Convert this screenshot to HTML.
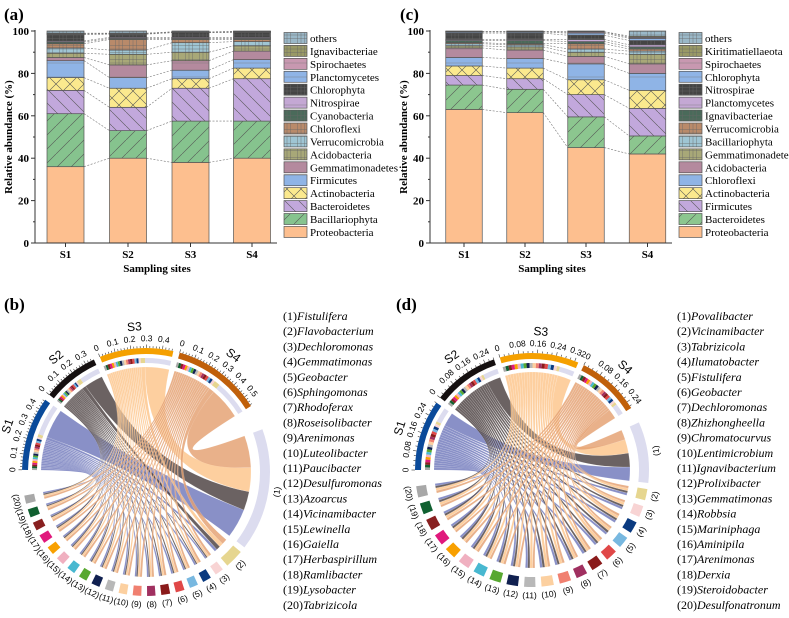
<!DOCTYPE html>
<html><head><meta charset="utf-8"><style>
html,body{margin:0;padding:0;background:#fff;}
svg{display:block;font-family:"Liberation Serif",serif;}
</style></head><body>
<svg id="fig" width="789" height="618" viewBox="0 0 789 618" xmlns="http://www.w3.org/2000/svg">
<defs id="defs"></defs>
<text x="4" y="20" font-size="17" font-weight="bold">(a)</text>
<text x="400" y="20" font-size="17" font-weight="bold">(c)</text>
<text x="4" y="310" font-size="17" font-weight="bold">(b)</text>
<text x="396" y="310" font-size="17" font-weight="bold">(d)</text>
</svg>
<script>
// ---------- Bar chart data ----------
const sites = ["S1","S2","S3","S4"];
const aNames = ["Proteobacteria","Bacillariophyta","Bacteroidetes","Actinobacteria","Firmicutes","Gemmatimonadetes","Acidobacteria","Verrucomicrobia","Chloroflexi","Cyanobacteria","Nitrospirae","Chlorophyta","Planctomycetes","Spirochaetes","Ignavibacteriae","others"];
const aS1 = [36,25,11,6,8,1.5,2,2.5,2,0.8,0.5,3,0.3,0.2,0.2,1];
const aS2 = [40,13,11,9,5,6,5,2,5,0.5,0.5,1.5,0.2,0.2,0.1,1];
const aS3 = [38,19.5,15.5,4.5,4,4.5,4,4.5,1.5,0.5,0.5,2.2,0.2,0.1,0.1,0.4];
const aS4 = [40,17.5,20,5,4,4,2.5,2,1,0.5,0.5,2.3,0.2,0.2,0.1,0.2];
const cNames = ["Proteobacteria","Bacteroidetes","Firmicutes","Actinobacteria","Chloroflexi","Acidobacteria","Gemmatimonadetes","Bacillariophyta","Verrucomicrobia","Ignavibacteriae","Planctomycetes","Nitrospirae","Chlorophyta","Spirochaetes","Kiritimatiellaeota","others"];
const cS1 = [63,11.5,4.5,4.5,4,4.5,1,1,0.5,1,0.5,3,0.5,0.2,0.1,0.2];
const cS2 = [61.5,11,5,5,4.5,4,1.5,1,0.5,1.5,0.5,3,0.5,0.2,0.1,0.2];
const cS3 = [45,14.5,10.5,7,7.5,3.5,2,1.5,2.5,1,1,2,1,0.5,0.2,0.3];
const cS4 = [42,8.5,13,8.5,8,4.5,4.5,1.5,1,1,1,2,1,0.5,0.5,2.5];
const yTicks = [0,20,40,60,80,100];

// ---------- Chord data (rows = genus 1..20, cols = S1..S4) ----------
const bGenera = ["Fistulifera","Flavobacterium","Dechloromonas","Gemmatimonas","Geobacter","Sphingomonas","Rhodoferax","Roseisolibacter","Arenimonas","Luteolibacter","Paucibacter","Desulfuromonas","Azoarcus","Vicinamibacter","Lewinella","Gaiella","Herbaspirillum","Ramlibacter","Lysobacter","Tabrizicola"];
const bMatrix = [
[0.22,0.14,0.18,0.24],[0.02,0.03,0.03,0.04],[0.012,0.010,0.015,0.018],[0.014,0.010,0.014,0.017],
[0.013,0.011,0.014,0.016],[0.014,0.011,0.015,0.016],[0.013,0.011,0.015,0.017],[0.013,0.010,0.014,0.016],
[0.012,0.011,0.015,0.016],[0.013,0.010,0.014,0.016],[0.012,0.011,0.014,0.016],[0.013,0.010,0.015,0.016],
[0.012,0.011,0.014,0.016],[0.013,0.010,0.014,0.016],[0.013,0.010,0.014,0.016],[0.012,0.011,0.014,0.015],
[0.013,0.011,0.015,0.016],[0.012,0.010,0.015,0.016],[0.013,0.010,0.014,0.016],[0.012,0.011,0.014,0.015]];
const dGenera = ["Povalibacter","Vicinamibacter","Tabrizicola","Ilumatobacter","Fistulifera","Geobacter","Dechloromonas","Zhizhongheella","Chromatocurvus","Lentimicrobium","Ignavibacterium","Prolixibacter","Gemmatimonas","Robbsia","Mariniphaga","Aminipila","Arenimonas","Derxia","Steroidobacter","Desulfonatronum"];
const dMatrix = [
[0.070,0.070,0.070,0.050],[0.012,0.011,0.013,0.012],[0.012,0.011,0.014,0.011],[0.013,0.011,0.014,0.012],
[0.012,0.012,0.014,0.011],[0.012,0.011,0.015,0.012],[0.013,0.011,0.014,0.012],[0.012,0.011,0.014,0.011],
[0.012,0.011,0.014,0.012],[0.013,0.012,0.015,0.012],[0.012,0.011,0.014,0.011],[0.012,0.011,0.014,0.012],
[0.012,0.011,0.014,0.012],[0.012,0.011,0.014,0.011],[0.012,0.011,0.014,0.012],[0.012,0.011,0.014,0.012],
[0.012,0.011,0.014,0.011],[0.012,0.011,0.014,0.012],[0.012,0.011,0.014,0.011],[0.012,0.011,0.013,0.012]];

const NS="http://www.w3.org/2000/svg";
const svg=document.getElementById('fig');
const defs=document.getElementById('defs');
function mk(tag,attrs,parent){const e=document.createElementNS(NS,tag);for(const k in attrs)e.setAttribute(k,attrs[k]);(parent||svg).appendChild(e);return e;}

function makePattern(id,color,kind){
  const p=mk('pattern',{id:id,patternUnits:'userSpaceOnUse',width:14,height:14},defs);
  mk('rect',{x:0,y:0,width:14,height:14,fill:color},p);
  const st={stroke:'#555','stroke-width':0.6,fill:'none'};
  if(kind==='fwd'||kind==='cross')mk('path',Object.assign({d:'M0,14 L14,0'},st),p);
  if(kind==='back'||kind==='cross')mk('path',Object.assign({d:'M0,0 L14,14'},st),p);
  if(kind==='grid'){mk('path',{d:'M0,3.5H14M0,7H14M0,10.5H14M3.5,0V14M7,0V14M10.5,0V14',stroke:'#666','stroke-width':0.4,fill:'none'},p);}
  if(kind==='hline'){mk('path',{d:'M0,7H14',stroke:'#777','stroke-width':0.4,fill:'none'},p);}
  return 'url(#'+id+')';
}
const aColors=["#fdbf8f","#86c38e","#c2a8dc","#fbe98e","#8fb4e6","#b48a9e","#a8a878","#9fc5d4","#b98a6a","#4a6a5a","#c4a8d4","#444444","#8fb4e6","#c898b0","#999966","#9ab8c8"];
const aKinds=["","fwd","back","cross","hline","hline","grid","grid","grid","grid","hline","grid","hline","hline","grid","grid"];
const cColors=["#fdbf8f","#8cc68f","#c2a8dc","#fbe98e","#8fb4e6","#b48a9e","#a8a878","#9fc5d4","#b98a6a","#4a6a5a","#c4a8d4","#444444","#8fb4e6","#c898b0","#999966","#9ab8c8"];
const cKinds=["","fwd","back","cross","hline","hline","grid","grid","grid","grid","hline","grid","hline","hline","grid","grid"];

function barChart(pfx,ox,centers,bw,names,data,colors,kinds,legX){
  const y0=243, yTop=31, ax=ox;
  const ys=v=>y0-(v/100)*(y0-yTop);
  const fills=colors.map((c,i)=>kinds[i]?makePattern(pfx+'p'+i,c,kinds[i]):c);
  const g=mk('g',{});
  
  
  const cums=data.map(arr=>{let c=0;return arr.map(v=>(c+=v));});
  for(let s=0;s<data.length-1;s++){
    for(let i=0;i<names.length-1;i++){
      const l=mk('line',{x1:centers[s]+bw/2,y1:ys(cums[s][i]),x2:centers[s+1]-bw/2,y2:ys(cums[s+1][i]),stroke:'#777','stroke-width':0.6,'stroke-dasharray':'2,1.5'},g);
      
      
    }
  }
  data.forEach((arr,s)=>{
    let c=0;
    arr.forEach((v,i)=>{
      const r=mk('rect',{x:centers[s]-bw/2,y:ys(c+v),width:bw,height:ys(c)-ys(c+v),fill:fills[i],stroke:'#555','stroke-width':0.7},g);
      
      
      c+=v;
    });
  });
  const ya=mk('line',{x1:ax,y1:yTop-1,x2:ax,y2:y0,stroke:'#333','stroke-width':1},g);
  
  const xa=mk('line',{x1:ax,y1:y0,x2:ax+242,y2:y0,stroke:'#333','stroke-width':1},g);
  
  yTicks.forEach(t=>{
    mk('line',{x1:ax-4,y1:ys(t),x2:ax,y2:ys(t),stroke:'#333'},g);
    if(t<100)mk('line',{x1:ax-2,y1:ys(t+10),x2:ax,y2:ys(t+10),stroke:'#333'},g);
    const tx=mk('text',{x:ax-6,y:ys(t)+4,'text-anchor':'end','font-size':11,'font-weight':'bold'},g);
    tx.textContent=t;
    
  });
  sites.forEach((s,i)=>{
    mk('line',{x1:centers[i],y1:y0,x2:centers[i],y2:y0+4,stroke:'#333'},g);
    const tx=mk('text',{x:centers[i],y:y0+15,'text-anchor':'middle','font-size':11,'font-weight':'bold'},g);
    tx.textContent=s;
    
  });
  const yt=mk('text',{x:0,y:0,transform:'translate('+(ox-23)+',137) rotate(-90)','text-anchor':'middle','font-size':11,'font-weight':'bold'},g);
  yt.textContent='Relative abundance (%)';
  
  const xt=mk('text',{x:ox+122,y:272,'text-anchor':'middle','font-size':11,'font-weight':'bold'},g);
  xt.textContent='Sampling sites';
  
  const n=names.length;
  for(let k=0;k<n;k++){
    const i=n-1-k; const cy=38+k*12.93;
    const r=mk('rect',{x:legX,y:cy-5.5,width:23,height:11,fill:fills[i],stroke:'#555','stroke-width':0.7},g);
    
    const tx=mk('text',{x:legX+26,y:cy+4,'font-size':11},g);
    tx.textContent=names[i];
    
  }
}
barChart('a',35,[65.5,128,190.5,252],37,aNames,[aS1,aS2,aS3,aS4],aColors,aKinds,284);
barChart('c',430,[464,525,586,647.5],36.5,cNames,[cS1,cS2,cS3,cS4],cColors,cKinds,679);

// ---------- Chord diagrams ----------
const gColors=["#dcdcef","#e6d690","#f8d4d4","#0a3a80","#78b8e0","#e04848","#8a1a1a","#a03060","#f08070","#fcd0a0","#b8b8b8","#102050","#58a830","#48b8d0","#f0b0c0","#f8a000","#e0187c","#882020","#106030","#a8a8a8"];
const sColors=["#0a4a9a","#151010","#f5a000","#c0600a"];
const rColors=["#6f78bb","#4a4040","#fdc48a","#e4a070"];
function P(cx,cy,r,a){const t=a*Math.PI/180;return [cx+r*Math.sin(t),cy-r*Math.cos(t)];}
function band(cx,cy,r1,r2,a1,a2){
  const p1=P(cx,cy,r2,a1),p2=P(cx,cy,r2,a2),p3=P(cx,cy,r1,a2),p4=P(cx,cy,r1,a1);const lg=(a2-a1)>180?1:0;
  return `M${p1}A${r2},${r2} 0 ${lg} 1 ${p2}L${p3}A${r1},${r1} 0 ${lg} 0 ${p4}Z`;
}
function chord(pfx,cx,cy,R,matrix,start,bigGap,sGap,gGap,major,minor,fmt){
  const g=mk('g',{'font-family':'"Liberation Sans",sans-serif'});
  
  const sTot=[0,1,2,3].map(s=>matrix.reduce((a,row)=>a+row[s],0));
  const gTot=matrix.map(row=>row.reduce((a,b)=>a+b,0));
  const total=sTot.reduce((a,b)=>a+b,0)+gTot.reduce((a,b)=>a+b,0);
  const unit=(360-2*bigGap-3*sGap-19*gGap)/total;
  const sStart=[],gStart=[];let a=start;
  for(let s=0;s<4;s++){sStart.push(a);a+=sTot[s]*unit+sGap;}
  a+=bigGap-sGap;
  for(let k=0;k<20;k++){gStart.push(a);a+=gTot[k]*unit+gGap;}
  const rr=R-19;
  const sPos=[],gPos=[];
  for(let s=0;s<4;s++){let p=sStart[s];sPos[s]=[];for(let k=19;k>=0;k--){sPos[s][k]=[p,p+matrix[k][s]*unit];p+=matrix[k][s]*unit;}}
  for(let k=0;k<20;k++){let p=gStart[k];gPos[k]=[];for(let s=3;s>=0;s--){gPos[k][s]=[p,p+matrix[k][s]*unit];p+=matrix[k][s]*unit;}}
  for(let s=0;s<4;s++){for(let k=0;k<20;k++){
    const [a1,a2]=sPos[s][k],[b1,b2]=gPos[k][s];
    const A1=P(cx,cy,rr,a1),A2=P(cx,cy,rr,a2),B1=P(cx,cy,rr,b1),B2=P(cx,cy,rr,b2);
    const d=`M${A1}A${rr},${rr} 0 0 1 ${A2}Q${cx},${cy} ${B1}A${rr},${rr} 0 0 1 ${B2}Q${cx},${cy} ${A1}Z`;
    const e=mk('path',{d:d,fill:rColors[s],'fill-opacity':0.82,stroke:'#fff','stroke-width':0.25,'stroke-opacity':0.5},g);
    
    
  }}
  for(let s=0;s<4;s++){
    const a1=sStart[s],a2=a1+sTot[s]*unit;
    const e=mk('path',{d:band(cx,cy,R-6,R,a1,a2),fill:sColors[s]},g);
    
    for(let k=0;k<20;k++){const [b1,b2]=sPos[s][k];
      const m=mk('path',{d:band(cx,cy,R-15,R-10,b1,b2),fill:gColors[k]},g);
      }
    const nT=Math.floor(sTot[s]/minor+1e-6);
    for(let t=0;t<=nT;t++){
      const v=t*minor,ang=a1+v*unit;const isMaj=Math.abs(v/major-Math.round(v/major))<1e-6;
      const p1=P(cx,cy,R,ang),p2=P(cx,cy,R+(isMaj?3.5:2),ang);
      mk('line',{x1:p1[0],y1:p1[1],x2:p2[0],y2:p2[1],stroke:'#333','stroke-width':0.6},g);
      if(isMaj){const pl=P(cx,cy,R+9,ang);const rot=ang>180?ang-360:ang;
        const tx=mk('text',{x:pl[0],y:pl[1],transform:`rotate(${rot} ${pl[0]} ${pl[1]})`,'text-anchor':'middle','font-size':8.5,'dominant-baseline':'middle'},g);
        tx.textContent=fmt(v);
        }
    }
    const mid=(a1+a2)/2,pl=P(cx,cy,R+21,mid),rot=mid>180?mid-360:mid;
    const st=mk('text',{x:pl[0],y:pl[1],transform:`rotate(${rot} ${pl[0]} ${pl[1]})`,'text-anchor':'middle','font-size':12,'dominant-baseline':'middle'},g);
    st.textContent=sites[s];
    
  }
  for(let k=0;k<20;k++){
    const a1=gStart[k],a2=a1+gTot[k]*unit;
    const e=mk('path',{d:band(cx,cy,R-10,R,a1,a2),fill:gColors[k]},g);
    
    const mid=(a1+a2)/2,pl=P(cx,cy,R+9,mid);const rot=mid-180;
    const tx=mk('text',{x:pl[0],y:pl[1],transform:`rotate(${rot} ${pl[0]} ${pl[1]})`,'text-anchor':'middle','font-size':8.5,'dominant-baseline':'middle'},g);
    tx.textContent='('+(k+1)+')';
    
  }
}
chord('b',146,472,124,bMatrix,271,12,3,2.7,0.1,0.02,v=>v===0?'0':(+v.toFixed(1)).toString());
chord('d',532,470,117,dMatrix,270,8,3,3,0.08,0.02,v=>v===0?'0':(+v.toFixed(2)).toString());

function genusLegend(x,names){
  names.forEach((n,i)=>{
    const t=mk('text',{x:x,y:320+i*15.2,'font-size':12});
    
    const a=mk('tspan',{},t);a.textContent='('+(i+1)+')';
    const b=mk('tspan',{'font-style':'italic'},t);b.textContent=n;
  });
}
genusLegend(283,bGenera);
genusLegend(677,dGenera);
</script>
</body></html>
